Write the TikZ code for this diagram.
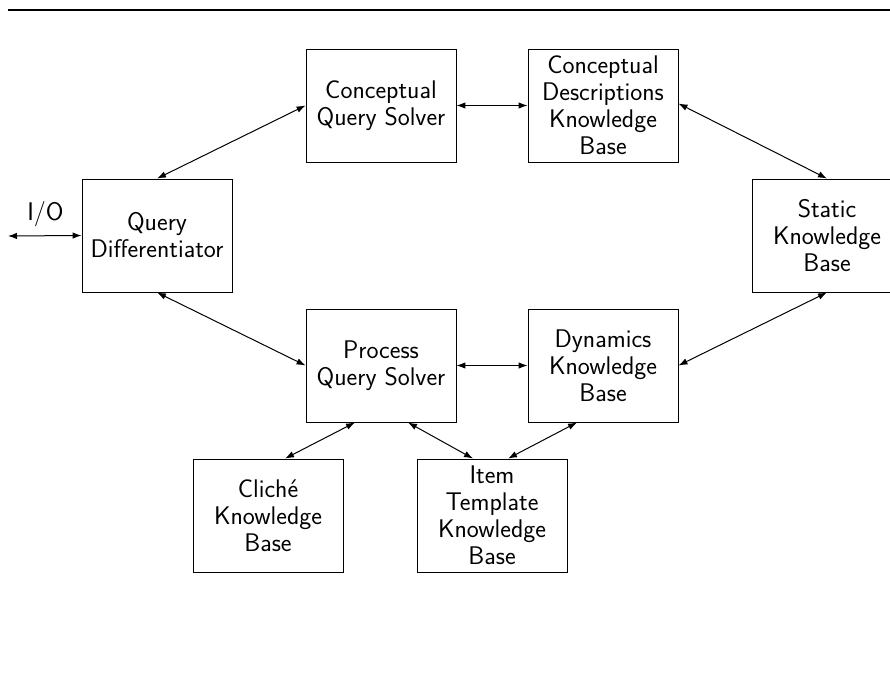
\documentclass[tikz,border=0pt]{standalone}
\usetikzlibrary{arrows.meta}
\begin{document}
\begin{tikzpicture}[x=1pt,y=-1pt,
  box/.style={draw, line width=0.9pt, minimum width=150pt, minimum height=113pt, inner sep=0pt, align=center, font=\sffamily\fontsize{25.5}{27}\selectfont},
  link/.style={line width=1pt, {Latex[length=9pt,width=6.5pt]}-{Latex[length=9pt,width=6.5pt]}}]
\useasboundingbox (0,0) rectangle (890,692);
\coordinate (rl) at (8,10);
\coordinate (rr) at (890,10);
\draw[line width=1.2pt] (rl) -- (rr);
\node[box] (qd) at (157,235.5) {Query\\Differentiator};
\node[box] (cqs) at (381,105.5) {Conceptual\\Query Solver};
\node[box] (cdkb) at (603,105.5) {Conceptual\\Descriptions\\Knowledge\\Base};
\node[box] (skb) at (827,235.5) {Static\\Knowledge\\Base};
\node[box] (pqs) at (381,365.5) {Process\\Query Solver};
\node[box] (dkb) at (603,365.5) {Dynamics\\Knowledge\\Base};
\node[box] (ckb) at (268,515.5) {Clich\'e\\Knowledge\\Base};
\node[box] (itkb) at (492,515.5) {Item\\Template\\Knowledge\\Base};
\coordinate (io) at (8,236);
\node[font=\sffamily\fontsize{25.5}{27}\selectfont, inner sep=0pt] (iol) at (45.5,214) {I/O};
\draw[link] (io) -- (qd.west);
\draw[link] (qd.north) -- (cqs.west);
\draw[link] (qd.south) -- (pqs.west);
\draw[link] (cqs.east) -- (cdkb.west);
\draw[link] (pqs.east) -- (dkb.west);
\draw[link] ([yshift=2pt]cdkb.east) -- (skb.north);
\draw[link] (skb.south) -- (dkb.east);
\draw[link] ([xshift=-26pt]pqs.south) -- ([xshift=17pt]ckb.north);
\draw[link] ([xshift=27pt]pqs.south) -- ([xshift=-19pt]itkb.north);
\draw[link] ([xshift=-26pt]dkb.south) -- ([xshift=16pt]itkb.north);
\end{tikzpicture}
\end{document}
